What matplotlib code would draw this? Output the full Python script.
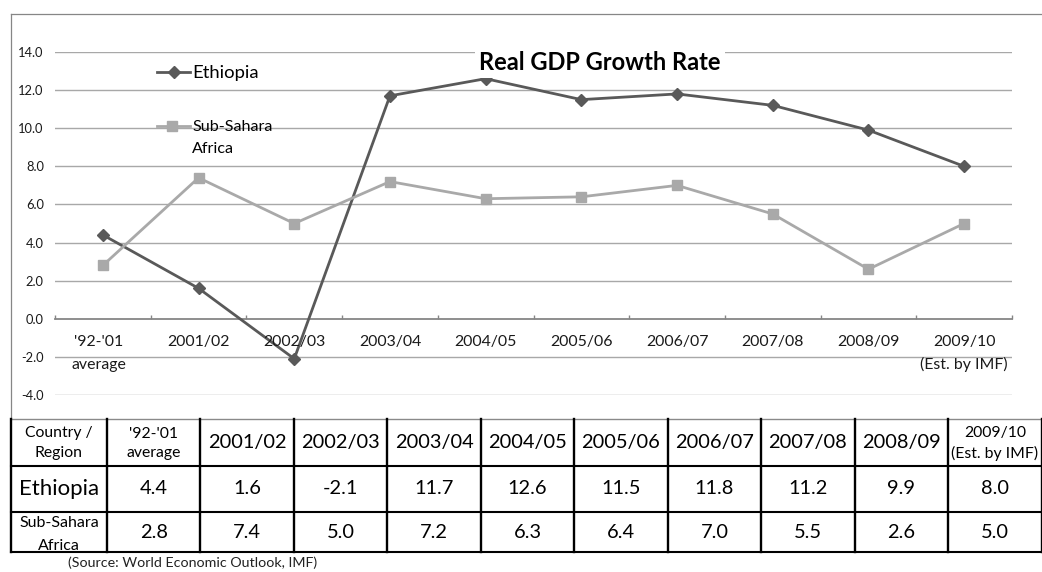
import matplotlib
matplotlib.use("Agg")
import matplotlib.pyplot as plt
from matplotlib.lines import Line2D

plt.rcParams['font.family'] = ['Lato', 'DejaVu Sans']

# ---- data -------------------------------------------------------------
periods = ["'92-'01\naverage", "2001/02", "2002/03", "2003/04", "2004/05",
           "2005/06", "2006/07", "2007/08", "2008/09", "2009/10\n(Est. by IMF)"]
ethiopia = [4.4, 1.6, -2.1, 11.7, 12.6, 11.5, 11.8, 11.2, 9.9, 8.0]
sub_sahara = [2.8, 7.4, 5.0, 7.2, 6.3, 6.4, 7.0, 5.5, 2.6, 5.0]
series_names = ["Ethiopia", "Sub-Sahara\nAfrica"]
yticks = [-4.0, -2.0, 0.0, 2.0, 4.0, 6.0, 8.0, 10.0, 12.0, 14.0]
title = "Real GDP Growth Rate"
row_header = "Country /\nRegion"
source_note = "(Source: World Economic Outlook, IMF)"

ETH_COLOR = '#595959'
SSA_COLOR = '#A9A9A9'
GRID_COLOR = '#A8A8A8'
AXIS_COLOR = '#868686'

W, H = 1042, 572
fig = plt.figure(figsize=(W / 100, H / 100), dpi=100)
fig.patch.set_facecolor('white')

# pixel-space overlay for frame, legend, title and table
fg = fig.add_axes([0, 0, 1, 1], zorder=5)
fg.set_xlim(0, W)
fg.set_ylim(H, 0)
fg.axis('off')
fg.patch.set_visible(False)

# ---- chart area ---------------------------------------------------------
px_l, px_r, px_t, px_b = 55, 1012, 52, 395
ax = fig.add_axes([px_l / W, (H - px_b) / H, (px_r - px_l) / W, (px_b - px_t) / H], zorder=2)
ax.patch.set_visible(False)
n = len(periods)
x = list(range(n))
ax.set_xlim(-0.5, n - 0.5)
ax.set_ylim(yticks[0], yticks[-1])

for v in yticks:
    if v != 0:
        ax.axhline(v, color=GRID_COLOR, lw=1.0, zorder=1)

for s in ['top', 'right', 'left']:
    ax.spines[s].set_visible(False)
ax.spines['bottom'].set_position(('data', 0))
ax.spines['bottom'].set_color(AXIS_COLOR)
ax.spines['bottom'].set_linewidth(1.3)
ax.set_xticks([i - 0.5 for i in range(n + 1)])
ax.set_xticklabels([])
ax.tick_params(axis='x', direction='in', length=3, color=AXIS_COLOR, width=1)

ax.set_yticks(yticks)
ax.set_yticklabels([f"{v:.1f}" for v in yticks], fontsize=9.3, color='#1a1a1a')
ax.tick_params(axis='y', length=0, pad=8)

for i, lab in enumerate(periods):
    for j, line in enumerate(lab.split('\n')):
        ax.text(i - (0.04 if i == 0 else 0), -1.2 - 1.22 * j, line, ha='center', va='center',
                fontsize=11.4, color='#1a1a1a', zorder=4)

ax.plot(x, ethiopia, color=ETH_COLOR, lw=2.0, marker='D', ms=6.5,
        mec=ETH_COLOR, mfc=ETH_COLOR, zorder=3, clip_on=False)
ax.plot(x, sub_sahara, color=SSA_COLOR, lw=2.0, marker='s', ms=7,
        mec=SSA_COLOR, mfc=SSA_COLOR, zorder=3.5, clip_on=False)

# chart frame
fg.add_line(Line2D([11, 11], [14, 419], color=AXIS_COLOR, lw=0.9))
fg.add_line(Line2D([11, W], [14, 14], color=AXIS_COLOR, lw=0.9))

# title with white backing
fg.text(600, 62, title, ha='center', va='center', fontsize=17, fontweight='bold',
        color='black', bbox=dict(facecolor='white', edgecolor='none', pad=3))

# legend
fg.add_line(Line2D([157, 190], [72, 72], color=ETH_COLOR, lw=2.0))
fg.add_line(Line2D([174], [72], color=ETH_COLOR, marker='D', ms=6.5))
fg.text(192, 73, series_names[0], ha='left', va='center', fontsize=13.3, color='black')
fg.add_line(Line2D([157, 190], [126, 126], color=SSA_COLOR, lw=2.0))
fg.add_line(Line2D([172], [126], color=SSA_COLOR, marker='s', ms=7))
ssa_lines = series_names[1].split('\n')
fg.text(192, 127, ssa_lines[0], ha='left', va='center', fontsize=11.6, color='black')
fg.text(192, 149, ssa_lines[1], ha='left', va='center', fontsize=11.6, color='black')

# ---- data table ---------------------------------------------------------
col_x = [11, 107] + [107 + 93.45 * k for k in range(1, n + 1)]
row_y = [419, 466, 512, 552]

fg.add_line(Line2D([11, W], [row_y[0], row_y[0]], color='#8a8a8a', lw=1.0))
for yy in row_y[1:]:
    fg.add_line(Line2D([11, W], [yy, yy], color='black', lw=1.5))
for xx in col_x:
    fg.add_line(Line2D([xx, xx], [row_y[0], row_y[-1]], color='black', lw=1.7))

# header row
mid_h = (row_y[0] + row_y[1]) / 2
hdr = row_header.split('\n')
fg.text((col_x[0] + col_x[1]) / 2, mid_h - 9, hdr[0], ha='center', va='center', fontsize=11.3)
fg.text((col_x[0] + col_x[1]) / 2, mid_h + 10, hdr[1], ha='center', va='center', fontsize=11.3)
for i, lab in enumerate(periods):
    cx = (col_x[i + 1] + col_x[i + 2]) / 2 if i + 2 < len(col_x) else col_x[i + 1] + 47
    parts = lab.split('\n')
    if len(parts) == 1:
        fg.text(cx, mid_h, parts[0], ha='center', va='center', fontsize=14.4)
    else:
        fg.text(cx, mid_h - 9, parts[0], ha='center', va='center', fontsize=11.3)
        fg.text(cx, mid_h + 11, parts[1], ha='center', va='center', fontsize=11.3)

# value rows
mid_e = (row_y[1] + row_y[2]) / 2
mid_s = (row_y[2] + row_y[3]) / 2
fg.text((col_x[0] + col_x[1]) / 2, mid_e, series_names[0], ha='center', va='center', fontsize=16)
fg.text((col_x[0] + col_x[1]) / 2, mid_s - 9, ssa_lines[0], ha='center', va='center', fontsize=11.5)
fg.text((col_x[0] + col_x[1]) / 2, mid_s + 14, ssa_lines[1], ha='center', va='center', fontsize=11.5,
        clip_on=True)
for i in range(n):
    cx = (col_x[i + 1] + col_x[i + 2]) / 2 if i + 2 < len(col_x) else col_x[i + 1] + 47
    fg.text(cx, mid_e, f"{ethiopia[i]:.1f}", ha='center', va='center', fontsize=14.4)
    fg.text(cx, mid_s, f"{sub_sahara[i]:.1f}", ha='center', va='center', fontsize=14.4)

fg.text(68, 563, source_note, ha='left', va='center', fontsize=10.3, color='#222222')

fig.savefig('out.png', dpi=100, facecolor='white')
